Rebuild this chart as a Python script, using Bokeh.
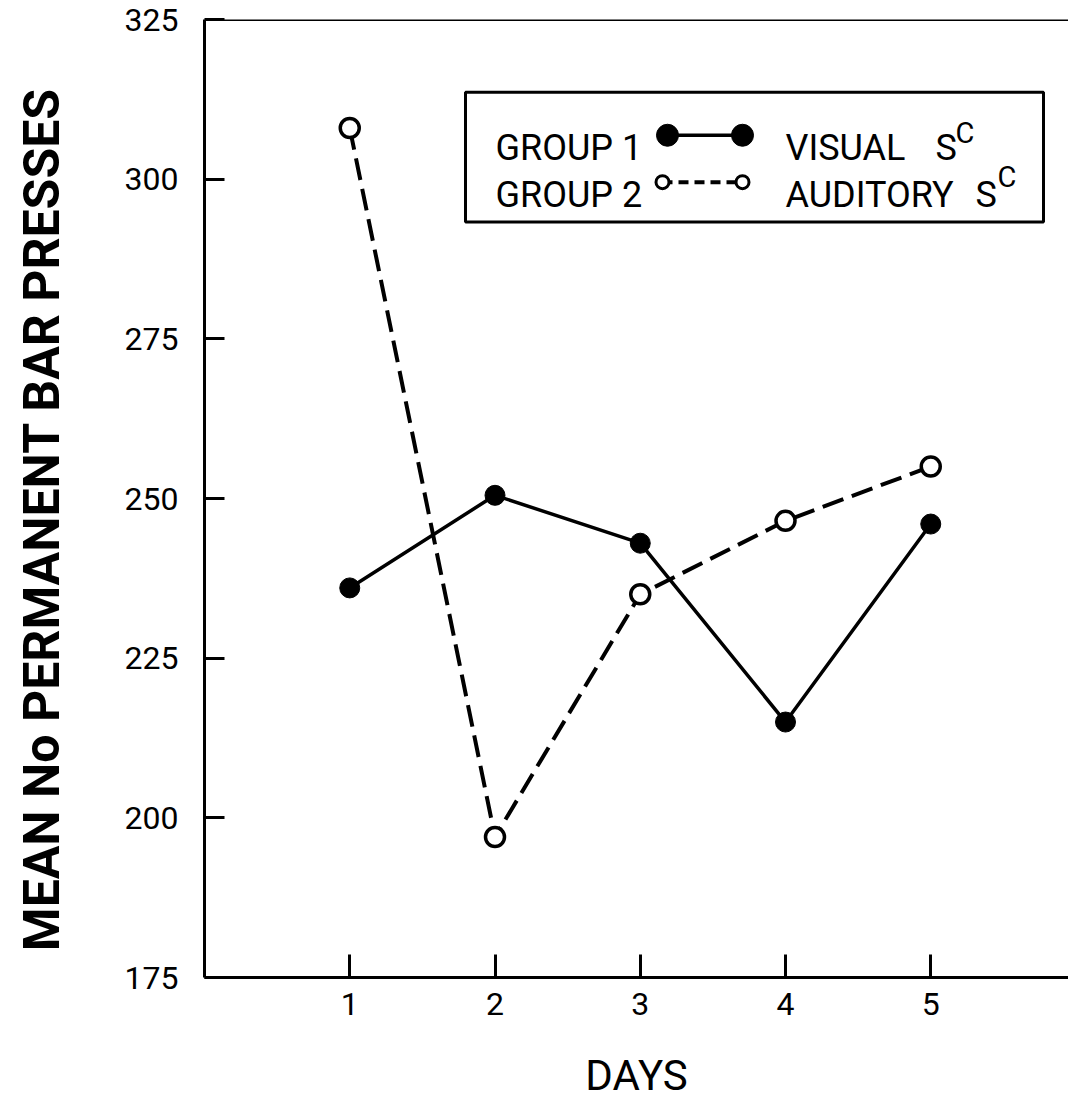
import math

from bokeh.core.properties import value
from bokeh.embed import file_html
from bokeh.layouts import row
from bokeh.models import FixedTicker, Range1d, Span
from bokeh.plotting import figure
from bokeh.resources import INLINE

# Mean number of permanent bar presses per day for the two groups
days = [1, 2, 3, 4, 5]
visual_sc = [236.0, 250.5, 243.0, 215.0, 246.0]      # Group 1, visual S^C
auditory_sc = [308.0, 197.0, 235.0, 246.5, 255.0]    # Group 2, auditory S^C
y_ticks = [175, 200, 225, 250, 275, 300, 325]
y_title = "MEAN No PERMANENT BAR PRESSES"

# Canvas geometry (pixels)
W, H = 1068, 1102
TITLE_W = 100                      # strip on the left holding the y title
LEFT, TOP, BOTTOM = 204, 19, 979   # frame edges on the full page
DAY_PX = 145.25
X_MAX = (W - LEFT) / DAY_PX
Y_MIN, Y_MAX = 175, 325
FONT = "Roboto"


def fx(px):
    """Page x pixel -> data x."""
    return (px - LEFT) / DAY_PX


def fy(py):
    """Page y pixel -> data y."""
    return Y_MIN + (BOTTOM - py) * (Y_MAX - Y_MIN) / (BOTTOM - TOP)


# --- narrow strip with the rotated y-axis title ---
tfig = figure(
    width=TITLE_W, height=H,
    x_range=Range1d(0, TITLE_W), y_range=Range1d(H, 0),
    x_axis_type=None, y_axis_type=None,
    output_backend="svg", toolbar_location=None,
    min_border=0, outline_line_color=None,
    background_fill_color="white", border_fill_color="white",
)
tfig.grid.visible = False
tfig.text(x=[41], y=[575], text=[y_title], angle=math.pi / 2,
          text_align="center", text_baseline="middle",
          text_font=value(FONT), text_font_size="50px", text_font_style="bold",
          text_color="black")

# --- main chart ---
fig = figure(
    width=W - TITLE_W, height=H,
    x_range=Range1d(0, X_MAX), y_range=Range1d(Y_MIN, Y_MAX),
    output_backend="svg", toolbar_location=None,
    min_border_left=LEFT - TITLE_W, min_border_right=0,
    min_border_top=TOP, min_border_bottom=H - BOTTOM,
    outline_line_color=None,
    background_fill_color="white", border_fill_color="white",
)
fig.grid.visible = False

for ax in (fig.xaxis[0], fig.yaxis[0]):
    ax.axis_line_width = 3
    ax.axis_line_color = "black"
    ax.major_tick_line_width = 3
    ax.major_tick_line_color = "black"
    ax.major_tick_out = 0
    ax.minor_tick_in = 0
    ax.minor_tick_out = 0
    ax.major_label_text_font = FONT
    ax.major_label_text_font_size = "32px"
    ax.major_label_text_color = "black"

fig.xaxis.ticker = FixedTicker(ticks=days)
fig.xaxis.major_tick_in = 23
fig.xaxis.major_label_standoff = 15
fig.xaxis.axis_label = "DAYS"
fig.xaxis.axis_label_text_font = FONT
fig.xaxis.axis_label_text_font_size = "42px"
fig.xaxis.axis_label_text_font_style = "normal"
fig.xaxis.axis_label_text_color = "black"
fig.xaxis.axis_label_standoff = 33

fig.yaxis.ticker = FixedTicker(ticks=y_ticks)
fig.yaxis.major_tick_in = 20
fig.yaxis.major_label_standoff = 26

# top edge of the frame (no right edge)
fig.add_layout(Span(location=Y_MAX, dimension="width", line_color="black", line_width=3))

# data series
fig.line(days, auditory_sc, line_color="black", line_width=4, line_dash="22 9")
fig.line(days, visual_sc, line_color="black", line_width=3.5)
fig.scatter(days, visual_sc, size=20, marker="circle",
            fill_color="black", line_color="black", line_width=1)
fig.scatter(days, auditory_sc, size=19, marker="circle",
            fill_color="white", line_color="black", line_width=3.5)

# key box
fig.quad(left=[fx(465)], right=[fx(1043)], top=[fy(92)], bottom=[fy(222)],
         fill_color="white", line_color="black", line_width=3)

row1, row2 = 135, 182
# key samples
fig.line([fx(667), fx(742)], [fy(row1), fy(row1)], line_color="black", line_width=3.5)
fig.scatter([fx(667), fx(742)], [fy(row1), fy(row1)], size=22, marker="circle",
            fill_color="black", line_color="black")
fig.line([fx(662), fx(742)], [fy(row2), fy(row2)], line_color="black",
         line_width=4, line_dash="10 6")
fig.scatter([fx(662), fx(742)], [fy(row2), fy(row2)], size=13, marker="circle",
            fill_color="white", line_color="black", line_width=3)

# key texts
fig.text(x=[fx(495), fx(785), fx(935)], y=[fy(148)] * 3,
         text=["GROUP 1", "VISUAL", "S"],
         text_font=value(FONT), text_font_size="36px",
         text_baseline="alphabetic", text_align="left", text_color="black")
fig.text(x=[fx(495), fx(785), fx(975)], y=[fy(195)] * 3,
         text=["GROUP 2", "AUDITORY", "S"],
         text_font=value(FONT), text_font_size="36px",
         text_baseline="alphabetic", text_align="left", text_color="black")
fig.text(x=[fx(955), fx(997)], y=[fy(133), fy(177)],
         text=["C", "C"],
         text_font=value(FONT), text_font_size="29px",
         text_baseline="alphabetic", text_align="left", text_color="black")

p = row(tfig, fig, spacing=0)
open("out.html", "w").write(file_html(p, INLINE))
